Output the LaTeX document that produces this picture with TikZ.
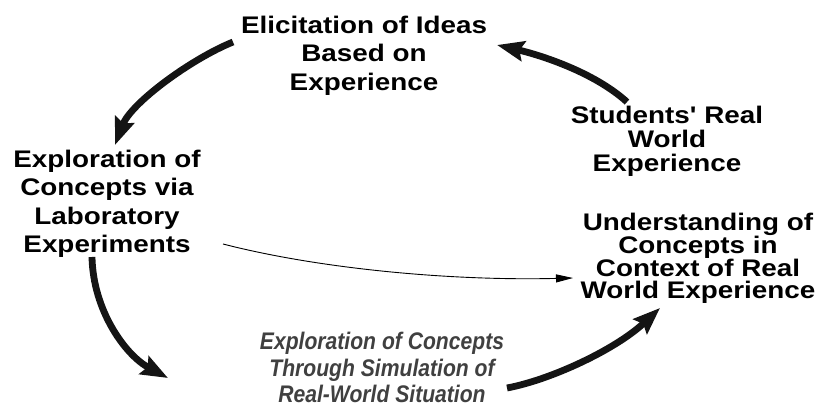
\documentclass[tikz,border=0pt]{standalone}
\usepackage{fontspec}
\setmainfont{Liberation Sans}
\newfontfamily\stagefont[FakeStretch=1.16]{Liberation Sans}
\newfontfamily\simfont[FakeStretch=0.88]{Liberation Sans}
\usetikzlibrary{arrows.meta}
\definecolor{simgray}{HTML}{404040}
\tikzset{
  stage/.style={inner sep=0pt, align=center, anchor=north,
    font=\stagefont\bfseries\fontsize{24}{28.5}\selectfont},
  bigflow/.style={line width=6.8pt, draw=black!92,
    -{Stealth[length=27pt,width=20pt,inset=4pt]}},
  thinflow/.style={line width=0.9pt, draw=black,
    -{Triangle[length=17pt,width=8pt]}}
}
\begin{document}
\begin{tikzpicture}[x=1pt,y=-1pt]
  \useasboundingbox (0,0) rectangle (825,414);

  % stages of the learning cycle
  \node[stage] (elicit) at (364,15.5)
    {Elicitation of Ideas\\Based on\\Experience};
  \node[stage, font=\stagefont\bfseries\fontsize{24}{24}\selectfont]
    (students) at (667,105.5) {Students' Real\\World\\Experience};
  \node[stage] (labexp) at (107,149.5)
    {Exploration of\\Concepts via\\Laboratory\\Experiments};
  \node[stage, font=\stagefont\bfseries\fontsize{24}{21.8}\selectfont]
    (understand) at (698,212.5)
    {Understanding of\\Concepts in\\Context of Real\\World Experience};
  \node[stage, text=simgray,
        font=\simfont\bfseries\itshape\fontsize{24}{26.5}\selectfont]
    (simul) at (382,332)
    {Exploration of Concepts\\Through Simulation of\\Real-World Situation};

  % ends of the connectors
  \coordinate (a1s) at (233,42);
  \coordinate (a1e) at (115,145);
  \coordinate (a2s) at (627,102);
  \coordinate (a2e) at (497,45);
  \coordinate (a3s) at (92,257);
  \coordinate (a3e) at (168,378);
  \coordinate (a4s) at (507,388);
  \coordinate (a4e) at (660,308);
  \coordinate (ts) at (223,244);
  \coordinate (te) at (573,278);

  % the cycle
  \draw[bigflow] (a1s) .. controls (191,59) and (131,103) .. (a1e);
  \draw[bigflow] (a2s) .. controls (594,72) and (540,55) .. (a2e);
  \draw[bigflow] (a3s) .. controls (93,310) and (125,355) .. (a3e);
  \draw[bigflow] (a4s) .. controls (550,380) and (615,350) .. (a4e);

  % direct link from the laboratory to understanding
  \draw[thinflow] (ts) .. controls (320,269) and (452,281) .. (te);
\end{tikzpicture}
\end{document}
